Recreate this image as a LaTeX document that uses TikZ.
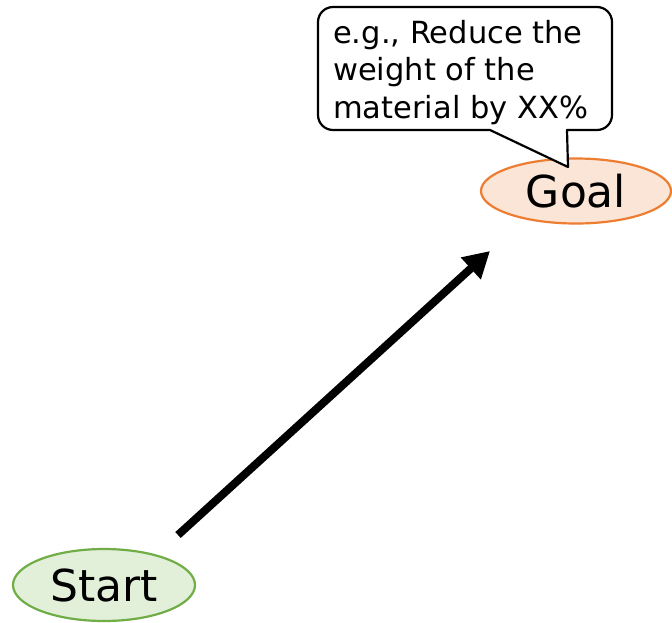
\documentclass[tikz,border=0pt]{standalone}
\usepackage{fontspec}
\setmainfont{DejaVu Sans}
\usetikzlibrary{arrows.meta,shapes.geometric}

\definecolor{goalfill}{HTML}{FBE5D6}
\definecolor{goalline}{HTML}{ED7D31}
\definecolor{startfill}{HTML}{E2F0D9}
\definecolor{startline}{HTML}{70AD47}

\tikzset{
  stage/.style={ellipse, line width=2.2pt, inner sep=0pt,
    font=\fontsize{44}{48}\selectfont},
  bubble/.style={line width=2.2pt, fill=white, line join=round},
}

\begin{document}
\begin{tikzpicture}[x=1pt, y=-1pt]
  \useasboundingbox (0,0) rectangle (672,622);

  \node[stage, draw=goalline, fill=goalfill, minimum width=190pt, minimum height=65pt]
    (goal) at (576,191) {Goal};
  \node[stage, draw=startline, fill=startfill, minimum width=182pt, minimum height=72pt]
    (start) at (104,585) {Start};

  \coordinate (pathfrom) at (178,535);
  \coordinate (pathto) at (490,251);
  \draw[line width=8pt, -{Triangle[length=26pt,width=28pt]}] (pathfrom) -- (pathto);

  % speech bubble pointing at the goal
  \draw[bubble] (490,130) [rounded corners=15pt] -- (318,130) -- (318,7) -- (612,7)
    -- (612,130) [sharp corners] -- (567,130) -- (568,167) -- cycle;
  \node[anchor=north west, inner sep=0pt, align=left,
    font=\fontsize{30.5}{37.5}\selectfont] (note) at (333,20)
    {e.g., Reduce the\\weight of the\\material by XX\%};
\end{tikzpicture}
\end{document}
